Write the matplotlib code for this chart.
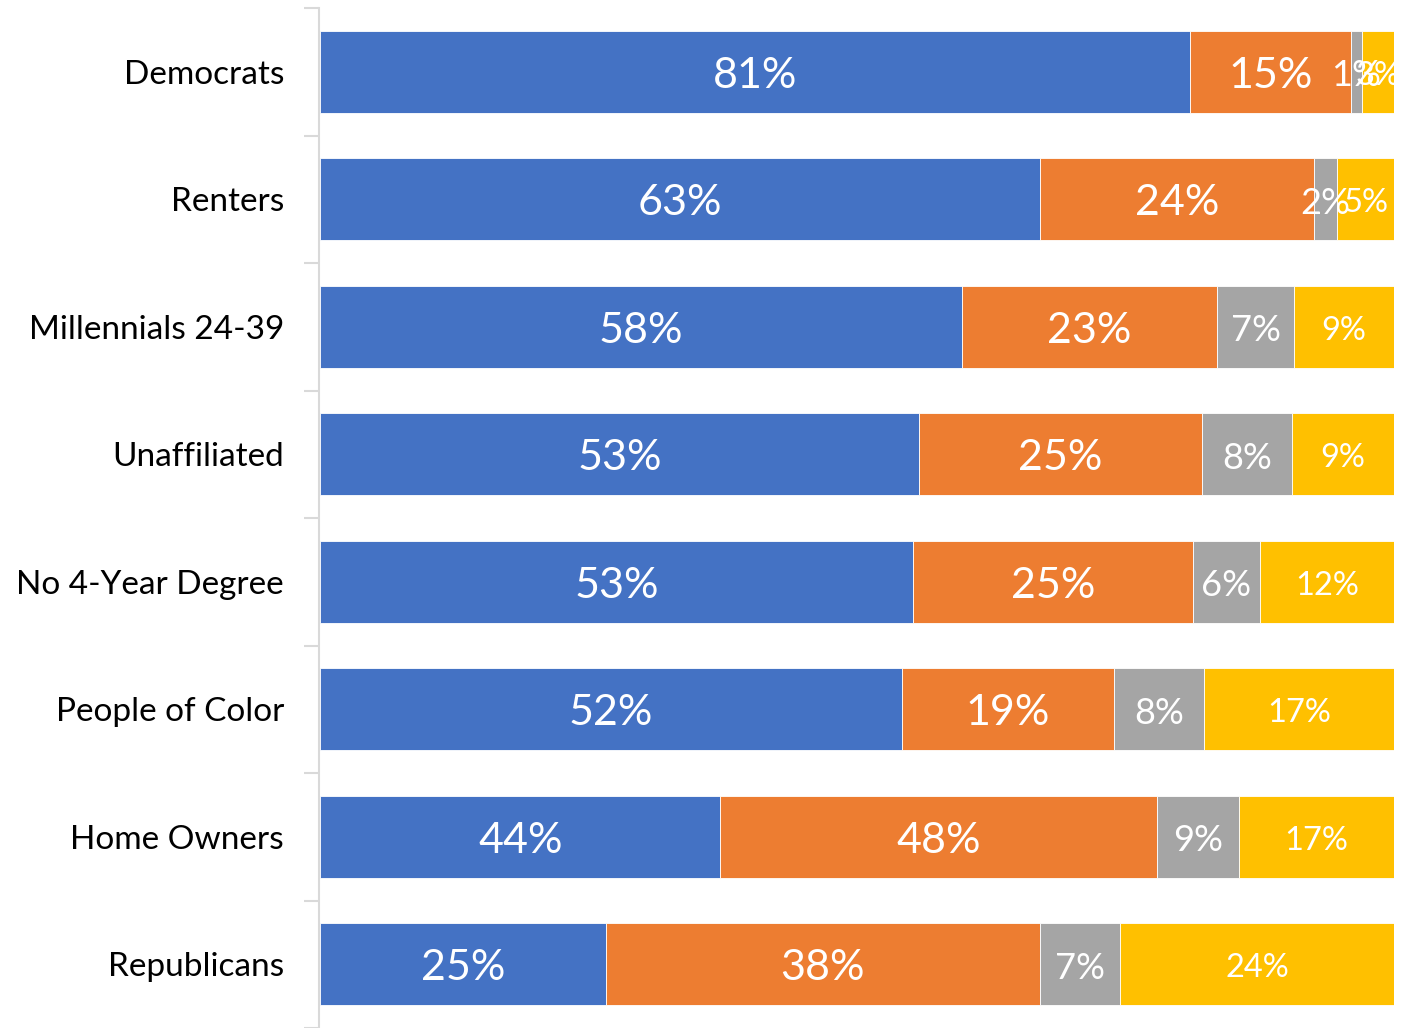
import matplotlib
matplotlib.use("Agg")
import matplotlib.pyplot as plt
import numpy as np

plt.rcParams['font.family'] = ['Lato', 'DejaVu Sans']

categories = ["Democrats", "Renters", "Millennials 24-39", "Unaffiliated",
              "No 4-Year Degree", "People of Color", "Home Owners", "Republicans"]
series1 = [81, 63, 58, 53, 53, 52, 44, 25]
series2 = [15, 24, 23, 25, 25, 19, 48, 38]
series3 = [1, 2, 7, 8, 6, 8, 9, 7]
series4 = [3, 5, 9, 9, 12, 17, 17, 24]
colors = ["#4472C4", "#ED7D31", "#A5A5A5", "#FFC000"]
label_sizes = [31, 31, 26, 23.5]

W, H = 1406, 1028
fig = plt.figure(figsize=(W / 100, H / 100), dpi=100)
ax = fig.add_axes([320 / W, 0, (1394 - 320) / W, (H - 8) / H])

data = np.array([series1, series2, series3, series4], dtype=float)
totals = data.sum(axis=0)
shares = data / totals
n = len(categories)
y = np.arange(n)
left = np.zeros(n)
for i in range(4):
    ax.barh(y, shares[i], left=left, height=0.645, color=colors[i],
            edgecolor="white", linewidth=0.6)
    for j in range(n):
        ax.text(left[j] + shares[i][j] / 2, y[j] + 0.03, f"{int(data[i][j])}%",
                ha="center", va="center", color="white",
                fontsize=label_sizes[i])
    left += shares[i]

ax.set_ylim(n - 0.5, -0.5)
ax.set_xlim(0, 1)
ax.set_xticks([])
ax.set_yticks(y)
ax.set_yticklabels(categories)
ax.set_yticks(np.arange(-0.5, n, 1), minor=True)
ax.tick_params(axis='y', which='major', length=0, pad=25, labelsize=24,
               labelcolor="black")
ax.tick_params(axis='y', which='minor', length=11, width=1.5, color="#D9D9D9")
for s in ["top", "right", "bottom"]:
    ax.spines[s].set_visible(False)
ax.spines["left"].set_color("#D9D9D9")
ax.spines["left"].set_linewidth(1.5)
ax.spines["left"].set_position(("outward", 1))

fig.savefig("out.png", dpi=100)
